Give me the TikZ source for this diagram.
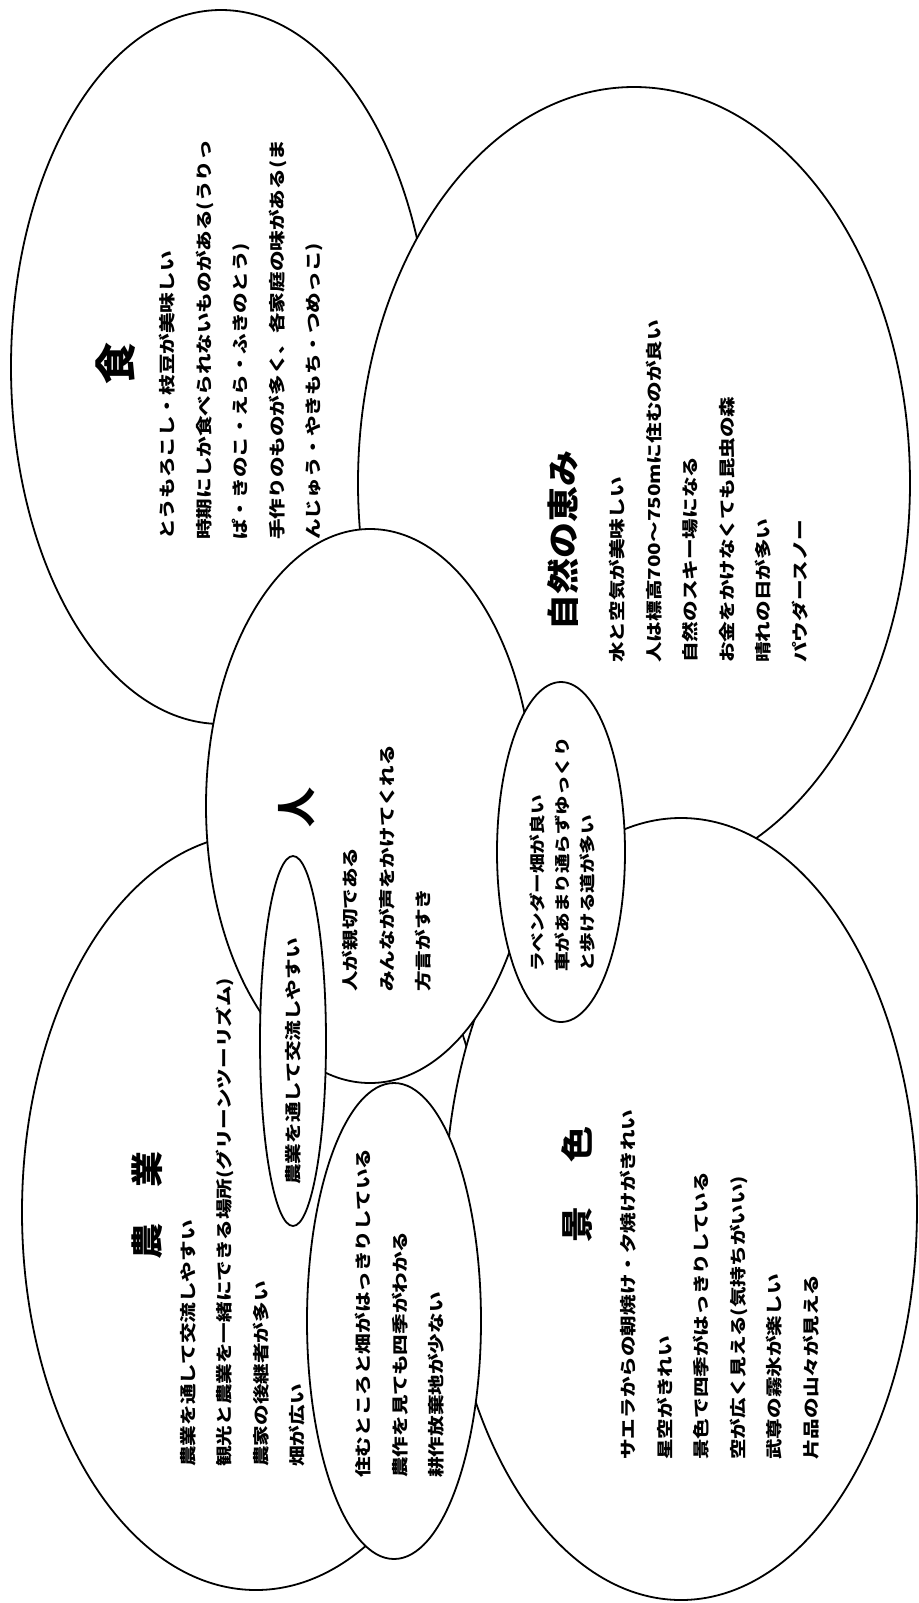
\documentclass[tikz,border=0pt]{standalone}
\usepackage{fontspec}
\newfontfamily\jp{Noto Sans CJK JP}
\tikzset{
  oval/.style={draw, fill=white, line width=0.9pt},
  body/.style={rotate=90, yscale=0.8, anchor=north west, inner sep=0pt, align=left,
    font=\jp\bfseries\fontsize{10.3}{22.8}\selectfont},
  head/.style={rotate=90, yscale=0.9, inner sep=0pt,
    font=\jp\bfseries\fontsize{18}{18}\selectfont},
}
\begin{document}
\begin{tikzpicture}[x=0.5pt, y=-0.5pt]
	\useasboundingbox (0,0) rectangle (919,1603);
	% define coordinates
	\coordinate (food) at (221,367);
	\coordinate (nature) at (634,483);
	\coordinate (farm) at (256,1212);
	\coordinate (view) at (681,1209);
	\coordinate (people) at (370,806);
	\coordinate (home) at (394,1321);
	\coordinate (walk) at (561,852);
	\coordinate (meet) at (293,1041);
	% ovals
	\draw[oval] (food) ellipse [x radius=210, y radius=357];
	\draw[oval] (nature) ellipse [x radius=276, y radius=396];
	\draw[oval] (farm) ellipse [x radius=234, y radius=378];
	\draw[oval] (view) ellipse [x radius=236, y radius=391];
	\draw[oval] (people) ellipse [x radius=164, y radius=277];
	\draw[oval] (home) ellipse [x radius=87, y radius=238];
	\draw[oval] (walk) ellipse [x radius=64, y radius=170];
	\draw[oval] (meet) ellipse [x radius=33, y radius=185];
	% titles
	\node[head, font=\jp\bfseries\fontsize{21}{21}\selectfont, yscale=1.1] (foodT) at (116,363) {食};
	\node[head] (natureT) at (563,540) {自然の恵み};
	\node[head, font=\jp\bfseries\fontsize{20}{20}\selectfont, yscale=1.1] (peopleT) at (297,807) {人};
	\node[head] (farmT) at (147,1205) {農　業};
	\node[head] (viewT) at (577,1184) {景\hspace{22pt}色};
	% texts
	\node[body] (foodX) at (159,540) {とうもろこし・枝豆が美味しい\\
		時期にしか食べられないものがある(うりっ\\
		ぱ・きのこ・えら・ふきのとう)\\
		手作りのものが多く、各家庭の味がある(ま\\
		んじゅう・やきもち・つめっこ)};
	\node[body] (natureX) at (609,663) {水と空気が美味しい\\
		人は標高700～750mに住むのが良い\\
		自然のスキー場になる\\
		お金をかけなくても昆虫の森\\
		晴れの日が多い\\
		パウダースノー};
	\node[body] (peopleX) at (342,992) {人が親切である\\
		みんなが声をかけてくれる\\
		方言がすき};
	\node[body, font=\jp\bfseries\fontsize{9.8}{15.8}\selectfont] (walkX) at (529,972) {ラベンダー畑が良い\\
		車があまり通らずゆっくり\\
		と歩ける道が多い};
	\node[body] (farmX) at (180,1467) {農業を通して交流しやすい\\
		観光と農業を一緒にできる場所(グリーンツーリズム)\\
		農家の後継者が多い\\
		畑が広い};
	\node[body] (meetX) at (285,1185) {農業を通して交流しやすい};
	\node[body] (homeX) at (355,1478) {住むところと畑がはっきりしている\\
		農作を見ても四季がわかる\\
		耕作放棄地が少ない};
	\node[body] (viewX) at (620,1460) {サエラからの朝焼け・夕焼けがきれい\\
		星空がきれい\\
		景色で四季がはっきりしている\\
		空が広く見える(気持ちがいい)\\
		武尊の霧氷が楽しい\\
		片品の山々が見える};
\end{tikzpicture}
\end{document}
